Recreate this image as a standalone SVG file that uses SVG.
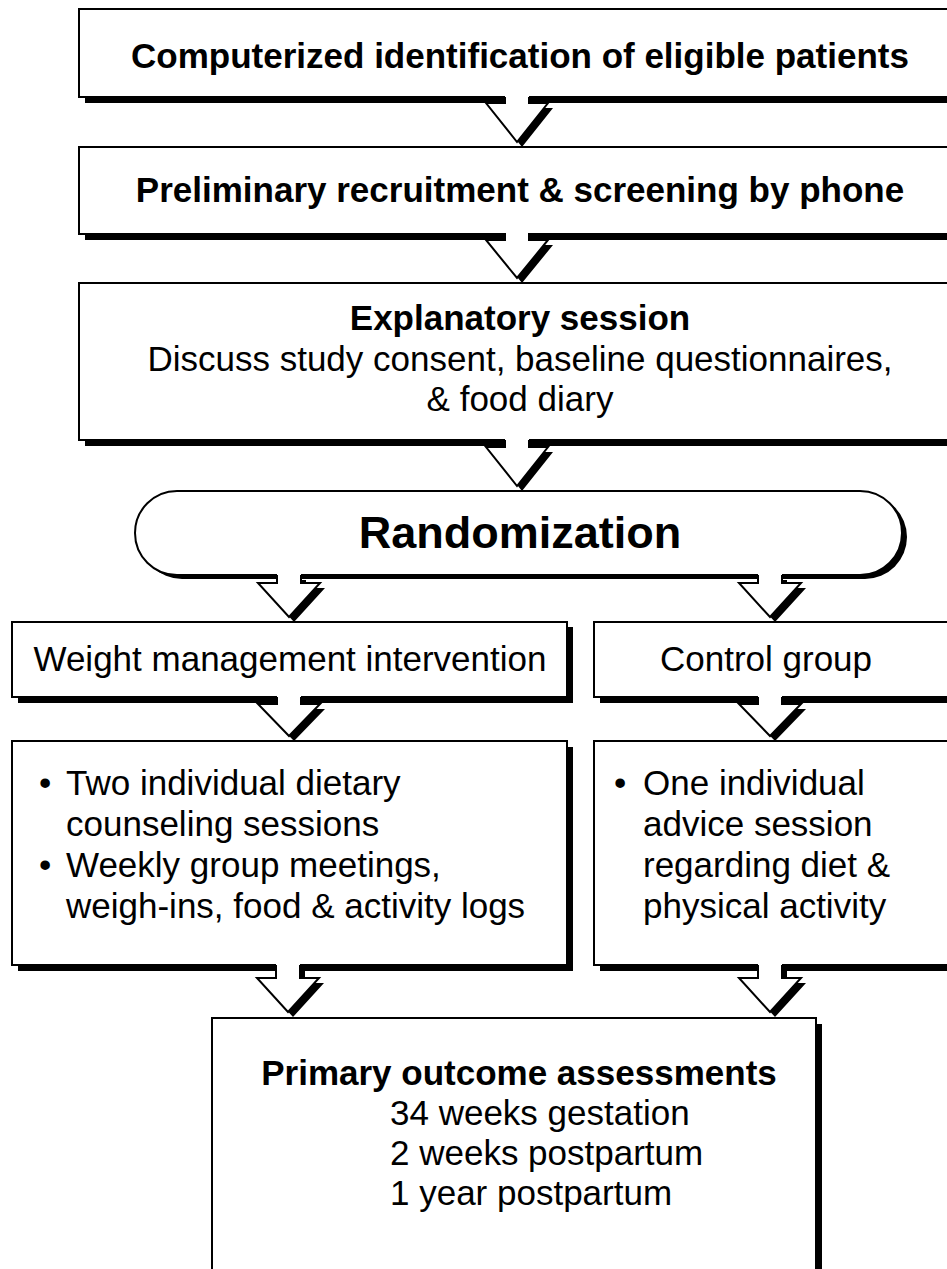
<svg xmlns="http://www.w3.org/2000/svg" width="947" height="1269" viewBox="0 0 947 1269">
<style>
.sh{fill:#000}
.bx{fill:#fff;stroke:#000;stroke-width:2}
.af{fill:#fff;stroke:none}
.ae{fill:none;stroke:#000;stroke-width:2;stroke-linejoin:miter}
text{font-family:"Liberation Sans",Arial,sans-serif;font-size:35px;fill:#000}
.b{font-weight:bold}
.c{text-anchor:middle}
.big{font-size:45px;font-weight:bold}
</style>
<rect width="947" height="1269" fill="#fff"/>
<g id="shadows">
<rect class="sh" x="85" y="15" width="880" height="88"/>
<rect class="sh" x="85" y="153" width="880" height="87"/>
<rect class="sh" x="85" y="289" width="880" height="157"/>
<rect class="sh" x="140" y="495" width="767" height="84" rx="42"/>
<rect class="sh" x="18" y="627" width="555" height="76"/>
<rect class="sh" x="600" y="627" width="400" height="76"/>
<rect class="sh" x="18" y="747" width="555" height="224"/>
<rect class="sh" x="600" y="747" width="400" height="224"/>
<rect class="sh" x="218" y="1024" width="604" height="300"/>
</g>
<g id="n1"><rect class="bx" x="79" y="9" width="880" height="88"/>
<text class="b c" x="520" y="68">Computerized identification of eligible patients</text></g>
<g id="n2"><rect class="bx" x="79" y="147" width="880" height="87"/>
<text class="b c" x="520" y="202">Preliminary recruitment &amp; screening by phone</text></g>
<g id="n3"><rect class="bx" x="79" y="283" width="880" height="157"/>
<text class="b c" x="520" y="330">Explanatory session</text>
<text class="c" x="520" y="371">Discuss study consent, baseline questionnaires,</text>
<text class="c" x="520" y="411">&amp; food diary</text></g>
<g id="n4"><rect class="bx" x="135" y="491" width="767" height="84" rx="42"/>
<text class="big c" x="520" y="548">Randomization</text></g>
<g id="n5"><rect class="bx" x="12" y="622" width="555" height="75"/>
<text class="c" x="290" y="671">Weight management intervention</text></g>
<g id="n6"><rect class="bx" x="594" y="622" width="400" height="75"/>
<text class="c" x="766" y="671">Control group</text></g>
<g id="n7"><rect class="bx" x="12" y="741" width="555" height="224"/>
<text x="39" y="795">•</text><text x="66" y="795">Two individual dietary</text>
<text x="66" y="836">counseling sessions</text>
<text x="39" y="877">•</text><text x="66" y="877">Weekly group meetings,</text>
<text x="66" y="918">weigh-ins, food &amp; activity logs</text></g>
<g id="n8"><rect class="bx" x="594" y="741" width="400" height="224"/>
<text x="614" y="795">•</text><text x="643" y="795">One individual</text>
<text x="643" y="836">advice session</text>
<text x="643" y="877">regarding diet &amp;</text>
<text x="643" y="918">physical activity</text></g>
<g id="n9"><rect class="bx" x="212" y="1018" width="604" height="300"/>
<text class="b c" x="519" y="1085">Primary outcome assessments</text>
<text x="390" y="1125">34 weeks gestation</text>
<text x="390" y="1165">2 weeks postpartum</text>
<text x="390" y="1205">1 year postpartum</text></g>
<g id="connectors">
<g transform="translate(517,97)">
<polygon class="sh" transform="translate(5,5)" points="-12,0 -12,6 -31,6 0,45 31,6 12,6 12,0"/>
<polygon class="af" points="-12,-2 -12,6 -31,6 0,45 31,6 12,6 12,-2"/>
<polyline class="ae" points="-12,0 -12,6 -31,6 0,45 31,6 12,6 12,0"/>
</g>
<g transform="translate(517,233)">
<polygon class="sh" transform="translate(5,5)" points="-12,0 -12,7 -31,7 0,45 31,7 12,7 12,0"/>
<polygon class="af" points="-12,-2 -12,7 -31,7 0,45 31,7 12,7 12,-2"/>
<polyline class="ae" points="-12,0 -12,7 -31,7 0,45 31,7 12,7 12,0"/>
</g>
<g transform="translate(517,440)">
<polygon class="sh" transform="translate(5,5)" points="-12,0 -12,7 -31,7 0,46 31,7 12,7 12,0"/>
<polygon class="af" points="-12,-2 -12,7 -31,7 0,46 31,7 12,7 12,-2"/>
<polyline class="ae" points="-12,0 -12,7 -31,7 0,46 31,7 12,7 12,0"/>
</g>
<g transform="translate(289,575)">
<polygon class="sh" transform="translate(5,5)" points="-12,0 -12,8 -31,8 0,42 31,8 12,8 12,0"/>
<polygon class="af" points="-12,-2 -12,8 -31,8 0,42 31,8 12,8 12,-2"/>
<polyline class="ae" points="-12,0 -12,8 -31,8 0,42 31,8 12,8 12,0"/>
</g>
<g transform="translate(770,575)">
<polygon class="sh" transform="translate(5,5)" points="-12,0 -12,8 -31,8 0,42 31,8 12,8 12,0"/>
<polygon class="af" points="-12,-2 -12,8 -31,8 0,42 31,8 12,8 12,-2"/>
<polyline class="ae" points="-12,0 -12,8 -31,8 0,42 31,8 12,8 12,0"/>
</g>
<g transform="translate(289,697)">
<polygon class="sh" transform="translate(5,5)" points="-12,0 -12,7 -31,7 0,39 31,7 12,7 12,0"/>
<polygon class="af" points="-12,-2 -12,7 -31,7 0,39 31,7 12,7 12,-2"/>
<polyline class="ae" points="-12,0 -12,7 -31,7 0,39 31,7 12,7 12,0"/>
</g>
<g transform="translate(770,697)">
<polygon class="sh" transform="translate(5,5)" points="-12,0 -12,7 -31,7 0,39 31,7 12,7 12,0"/>
<polygon class="af" points="-12,-2 -12,7 -31,7 0,39 31,7 12,7 12,-2"/>
<polyline class="ae" points="-12,0 -12,7 -31,7 0,39 31,7 12,7 12,0"/>
</g>
<g transform="translate(288,965)">
<polygon class="sh" transform="translate(5,5)" points="-12,0 -12,13 -31,13 0,47 31,13 12,13 12,0"/>
<polygon class="af" points="-12,-2 -12,13 -31,13 0,47 31,13 12,13 12,-2"/>
<polyline class="ae" points="-12,0 -12,13 -31,13 0,47 31,13 12,13 12,0"/>
</g>
<g transform="translate(770,965)">
<polygon class="sh" transform="translate(5,5)" points="-12,0 -12,13 -31,13 0,47 31,13 12,13 12,0"/>
<polygon class="af" points="-12,-2 -12,13 -31,13 0,47 31,13 12,13 12,-2"/>
<polyline class="ae" points="-12,0 -12,13 -31,13 0,47 31,13 12,13 12,0"/>
</g>
</g>
</svg>
